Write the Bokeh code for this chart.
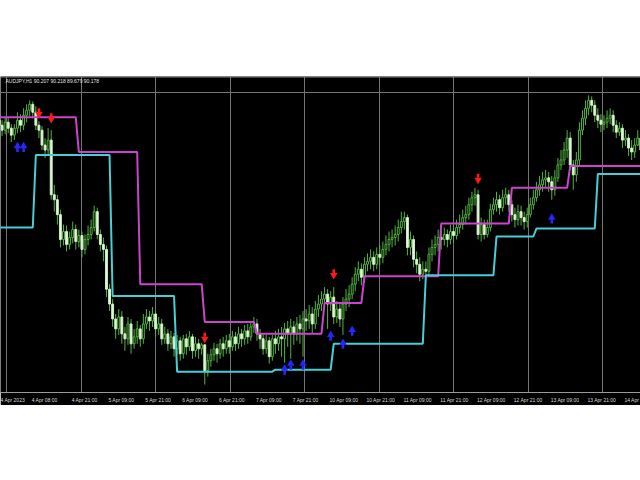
import numpy as np
from bokeh.plotting import figure
from bokeh.models import Range1d, FixedTicker, Span, Label, Spacer
from bokeh.layouts import column
from bokeh.embed import file_html
from bokeh.resources import INLINE

# ---------------- data (AUDJPY, H1) ----------------
first_open = 90.48
close = [
    90.43, 90.38, 90.46, 90.40, 90.33, 90.40, 90.48, 90.43, 90.53, 90.58,
    90.64, 90.56, 90.43, 90.38, 90.23, 90.18, 90.28, 89.73, 89.68, 89.53,
    89.28, 89.36, 89.23, 89.30, 89.38, 89.26, 89.32, 89.18, 89.28, 89.33,
    89.40, 89.56, 89.33, 89.23, 89.18, 88.78, 88.63, 88.48, 88.38, 88.50,
    88.33, 88.28, 88.43, 88.23, 88.30, 88.38, 88.28, 88.43, 88.50, 88.46,
    88.53, 88.38, 88.43, 88.28, 88.33, 88.23, 88.30, 88.18, 88.26, 88.13,
    88.28, 88.20, 88.30, 88.16, 88.23, 88.18, 88.22, 87.96, 88.06, 88.12,
    88.18, 88.13, 88.23, 88.18, 88.26, 88.20, 88.30, 88.23, 88.33, 88.28,
    88.36, 88.30, 88.40, 88.43, 88.33, 88.28, 88.18, 88.26, 88.10, 88.28,
    88.23, 88.30, 88.28, 88.38, 88.33, 88.40, 88.33, 88.43, 88.38, 88.48,
    88.46, 88.53, 88.43, 88.58, 88.63, 88.68, 88.73, 88.63, 88.70, 88.50,
    88.58, 88.48, 88.63, 88.68, 88.73, 88.83, 88.93, 88.98, 88.90, 89.03,
    89.06, 89.10, 89.03, 89.13, 89.10, 89.18, 89.23, 89.28, 89.30, 89.33,
    89.40, 89.46, 89.50, 89.20, 89.28, 89.08, 89.03, 88.93, 88.98, 88.96,
    89.13, 89.20, 89.23, 89.30, 89.28, 89.33, 89.28, 89.36, 89.32, 89.40,
    89.43, 89.50, 89.53, 89.63, 89.70, 89.73, 89.33, 89.43, 89.33, 89.40,
    89.58, 89.63, 89.68, 89.60, 89.70, 89.73, 89.63, 89.53, 89.48, 89.56,
    89.50, 89.46, 89.53, 89.63, 89.70, 89.78, 89.83, 89.88, 89.90, 89.86,
    89.78, 89.90, 90.03, 90.08, 90.18, 90.30, 90.03, 89.93, 90.08, 90.38,
    90.50, 90.60, 90.68, 90.63, 90.53, 90.48, 90.44, 90.46, 90.50, 90.53,
    90.43, 90.36, 90.40, 90.28, 90.30, 90.20, 90.16, 90.23, 90.30, 90.18,
]
high = [
    90.54, 90.48, 90.51, 90.50, 90.44, 90.44, 90.56, 90.54, 90.60, 90.64,
    90.68, 90.67, 90.62, 90.47, 90.42, 90.30, 90.40, 90.38, 89.83, 89.73,
    89.58, 89.43, 89.42, 89.36, 89.46, 89.43, 89.38, 89.36, 89.33, 89.42,
    89.48, 89.62, 89.60, 89.38, 89.30, 89.22, 88.83, 88.68, 88.53, 88.58,
    88.56, 88.40, 88.50, 88.48, 88.38, 88.46, 88.42, 88.53, 88.58, 88.56,
    88.60, 88.56, 88.50, 88.48, 88.40, 88.38, 88.36, 88.34, 88.32, 88.30,
    88.32, 88.33, 88.36, 88.33, 88.30, 88.28, 88.24, 88.22, 88.13, 88.18,
    88.24, 88.23, 88.28, 88.30, 88.32, 88.33, 88.36, 88.35, 88.40, 88.38,
    88.42, 88.43, 88.46, 88.50, 88.48, 88.38, 88.33, 88.32, 88.30, 88.32,
    88.36, 88.38, 88.40, 88.44, 88.46, 88.48, 88.46, 88.50, 88.52, 88.56,
    88.58, 88.62, 88.60, 88.66, 88.72, 88.76, 88.80, 88.78, 88.76, 88.80,
    88.66, 88.63, 88.70, 88.78, 88.82, 88.90, 89.00, 89.06, 89.04, 89.10,
    89.14, 89.18, 89.16, 89.20, 89.22, 89.26, 89.32, 89.36, 89.38, 89.42,
    89.48, 89.56, 89.56, 89.53, 89.36, 89.32, 89.16, 89.10, 89.06, 89.06,
    89.20, 89.28, 89.32, 89.38, 89.38, 89.40, 89.38, 89.43, 89.42, 89.48,
    89.53, 89.58, 89.62, 89.70, 89.76, 89.80, 89.78, 89.50, 89.48, 89.48,
    89.64, 89.70, 89.76, 89.73, 89.78, 89.80, 89.78, 89.68, 89.60, 89.63,
    89.62, 89.56, 89.60, 89.70, 89.78, 89.86, 89.92, 89.96, 89.98, 89.96,
    89.92, 89.98, 90.10, 90.18, 90.26, 90.38, 90.36, 90.08, 90.16, 90.46,
    90.58, 90.68, 90.73, 90.72, 90.68, 90.60, 90.54, 90.53, 90.58, 90.60,
    90.58, 90.48, 90.46, 90.44, 90.38, 90.34, 90.28, 90.30, 90.38, 90.34,
]
low = [
    90.36, 90.32, 90.34, 90.35, 90.26, 90.28, 90.35, 90.36, 90.38, 90.46,
    90.52, 90.50, 90.38, 90.30, 90.18, 90.10, 90.13, 89.68, 89.56, 89.43,
    89.20, 89.22, 89.16, 89.18, 89.24, 89.18, 89.20, 89.10, 89.13, 89.22,
    89.28, 89.36, 89.28, 89.16, 89.06, 88.70, 88.56, 88.40, 88.28, 88.32,
    88.23, 88.16, 88.22, 88.13, 88.18, 88.23, 88.20, 88.23, 88.38, 88.36,
    88.40, 88.30, 88.32, 88.22, 88.23, 88.16, 88.18, 88.10, 88.12, 88.06,
    88.08, 88.12, 88.16, 88.08, 88.10, 88.08, 88.12, 87.82, 87.90, 88.00,
    88.06, 88.04, 88.08, 88.10, 88.13, 88.13, 88.16, 88.16, 88.18, 88.20,
    88.22, 88.23, 88.26, 88.34, 88.26, 88.18, 88.12, 88.13, 88.03, 88.06,
    88.13, 88.16, 88.10, 88.04, 88.20, 88.08, 88.22, 88.26, 88.23, 88.10,
    88.36, 88.38, 88.33, 88.38, 88.50, 88.56, 88.60, 88.38, 88.56, 88.43,
    88.44, 88.40, 88.32, 88.56, 88.60, 88.68, 88.76, 88.86, 88.82, 88.84,
    88.96, 88.98, 88.96, 88.98, 89.02, 89.04, 89.12, 89.16, 89.20, 89.22,
    89.26, 89.34, 89.38, 89.12, 89.12, 89.00, 88.94, 88.86, 88.88, 88.88,
    88.92, 89.06, 89.12, 89.16, 89.18, 89.22, 89.20, 89.23, 89.24, 89.28,
    89.34, 89.38, 89.43, 89.48, 89.56, 89.62, 89.28, 89.26, 89.28, 89.30,
    89.36, 89.53, 89.56, 89.53, 89.56, 89.63, 89.56, 89.46, 89.40, 89.42,
    89.42, 89.38, 89.40, 89.50, 89.58, 89.66, 89.72, 89.76, 89.80, 89.76,
    89.68, 89.72, 89.86, 89.98, 90.03, 90.10, 89.98, 89.78, 89.86, 90.03,
    90.33, 90.43, 90.53, 90.56, 90.46, 90.40, 90.36, 90.38, 90.40, 90.44,
    90.36, 90.30, 90.32, 90.20, 90.22, 90.12, 90.08, 90.10, 90.22, 90.13,
]

# channel lines: bar index where a new level starts, and the level
upper_start = [0, 26, 46, 67, 84, 106, 119, 144, 167, 186]
upper_level = [90.51, 90.16, 88.83, 88.45, 88.33, 88.64, 88.91, 89.44, 89.80, 90.02]
lower_start = [0, 12, 37, 58, 90, 109, 139, 162, 175, 195]
lower_level = [89.40, 90.13, 88.71, 87.95, 87.97, 88.23, 88.92, 89.31, 89.39, 89.94]

# signal arrows (bar index, price)
sell_bar = [13, 17, 67, 109, 156]
sell_price = [90.56, 90.51, 88.30, 88.94, 89.90]
buy_bar = [6, 8, 93, 95, 99, 108, 112, 115, 180]
buy_price = [90.20, 90.20, 87.96, 88.01, 88.01, 88.30, 88.22, 88.35, 89.48]

tick_bars = [-1, 10, 23, 35, 47, 59, 71, 83, 95, 107, 119, 131, 143, 155, 167, 179, 191, 203]
tick_labels = ["4 Apr 2023", "4 Apr 08:00", "4 Apr 21:00", "5 Apr 09:00", "5 Apr 21:00",
               "6 Apr 09:00", "6 Apr 21:00", "7 Apr 09:00", "7 Apr 21:00", "10 Apr 09:00",
               "10 Apr 21:00", "11 Apr 09:00", "11 Apr 21:00", "12 Apr 09:00", "12 Apr 21:00",
               "13 Apr 09:00", "13 Apr 21:00", "14 Apr"]
title_text = "AUDJPY,H1  90.207 90.218 89.679 90.178"
grid_price = [90.76]

# ---------------- layout constants ----------------
BAR_PX = 3.071     # pixels per bar in the screenshot
X0_PX = -1.5       # page x of bar 0
FRAME_L, FRAME_R = 0, 640
Y_LO, Y_HI = 87.74, 90.92
FRAME_H = 318
PRICE_PER_PX = (Y_HI - Y_LO) / FRAME_H
LABEL_FS = 5.0
# Liberation Sans advance widths (em) used to place left-aligned time labels
CW = {" ": 0.278, "A": 0.667, "p": 0.556, "r": 0.333, ":": 0.278}


def px_to_bar(px):
    return (px - X0_PX) / BAR_PX


def label_w(s):
    return sum(CW.get(ch, 0.556) for ch in s) * LABEL_FS


n = len(close)
idx = np.arange(n)
opens = [first_open] + close[:-1]


def expand(starts, levels):
    out = np.zeros(n)
    for k, s in enumerate(starts):
        e = starts[k + 1] if k + 1 < len(starts) else n
        out[s:e] = levels[k]
    return out


upper = expand(upper_start, upper_level)
lower = expand(lower_start, lower_level)

p = figure(width=640, height=FRAME_H + 11, output_backend="svg", toolbar_location=None,
           x_range=Range1d(px_to_bar(FRAME_L), px_to_bar(FRAME_R)),
           y_range=Range1d(Y_LO, Y_HI), y_axis_location=None,
           background_fill_color="black", border_fill_color="black",
           min_border_left=0, min_border_right=0, min_border_top=0, min_border_bottom=11)
p.outline_line_color = None

# grid
p.xgrid.ticker = FixedTicker(ticks=[px_to_bar(6 + 74.5 * k) for k in range(9)])
p.xgrid.grid_line_color = "#747474"
p.ygrid.ticker = FixedTicker(ticks=grid_price)
p.ygrid.grid_line_color = "#747474"
p.add_layout(Span(location=Y_HI - 0.5 * PRICE_PER_PX, dimension="width",
                  line_color="#8a8a8a", line_width=1))

# x axis: terminal-style labels start just right of their bar, so the
# (centred) Bokeh label is placed at bar + half its width
label_pos = [b + (2 + label_w(t) / 2) / BAR_PX for b, t in zip(tick_bars, tick_labels)]
ax = p.xaxis[0]
ax.ticker = FixedTicker(ticks=label_pos)
ax.major_label_overrides = {pos: t for pos, t in zip(label_pos, tick_labels)}
ax.major_label_text_font = "Liberation Sans"
ax.major_label_text_font_size = f"{LABEL_FS}px"
ax.major_label_text_color = "#d8d8d8"
ax.major_label_standoff = 4
ax.major_tick_in = 0
ax.major_tick_out = 0
ax.minor_tick_line_color = None
ax.axis_line_color = "#9a9a9a"

# candles
bull = [i for i in range(n) if close[i] >= opens[i]]
bear = [i for i in range(n) if close[i] < opens[i]]
wick = "#52b33e"
p.segment(x0=idx, y0=low, x1=idx, y1=high, line_color=wick, line_width=1)
p.vbar(x=bull, width=0.62,
       top=[close[i] for i in bull], bottom=[opens[i] for i in bull],
       fill_color="black", line_color=wick, line_width=1)
p.vbar(x=bear, width=0.62,
       top=[opens[i] for i in bear], bottom=[close[i] for i in bear],
       fill_color="#e6f7de", line_color="#cfeec3", line_width=1)

# channel lines
p.line(idx, upper, line_color="#cc44cc", line_width=2)
p.line(idx, lower, line_color="#45cfd6", line_width=2)

# arrows: a shaft (rect, screen-sized) and a head (triangle marker)
off = 2 * PRICE_PER_PX
red, blue = "#ff1a1a", "#2626ff"
p.rect(x=sell_bar, y=[v + off for v in sell_price], width=2.6, height=4,
       width_units="screen", height_units="screen", fill_color=red, line_color=None)
p.scatter(x=sell_bar, y=[v - off for v in sell_price], marker="inverted_triangle",
          size=7.5, fill_color=red, line_color=None)
p.rect(x=buy_bar, y=[v - off for v in buy_price], width=2.6, height=4,
       width_units="screen", height_units="screen", fill_color=blue, line_color=None)
p.scatter(x=buy_bar, y=[v + off for v in buy_price], marker="triangle",
          size=7.5, fill_color=blue, line_color=None)

p.add_layout(Label(x=px_to_bar(5), y=90.87, text=title_text, text_color="#e0e0e0",
                   text_font="Liberation Sans", text_font_size="5px", text_baseline="middle"))

layout = column(Spacer(width=640, height=76), p)
open("out.html", "w").write(file_html(layout, INLINE))
